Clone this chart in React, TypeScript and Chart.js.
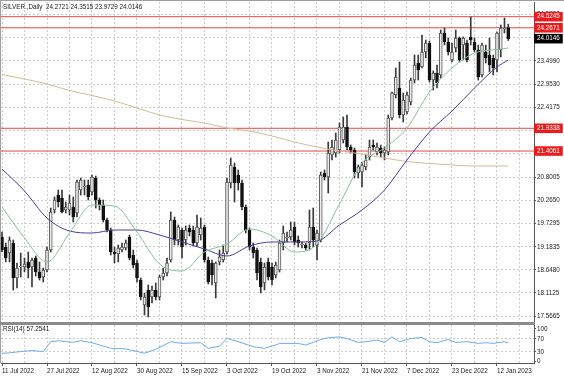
import React, { useEffect, useRef } from "react";
import { Chart, registerables } from "chart.js";

Chart.register(...registerables);

const chartTitle = "SILVER.,Daily  24.2721 24.3515 23.9729 24.0146";
const rsiTitle = "RSI(14) 57.2541";

const candleOpen = [
  19.411, 19.178, 19.039, 19.271, 18.459, 18.714, 18.714, 18.83, 18.714, 18.923,
  18.598, 18.482, 18.644, 19.109, 20.037, 20.385, 20.316, 20.037, 20.037, 20.107,
  19.968, 20.501, 20.571, 20.618, 20.455, 20.78, 20.269, 20.153, 19.805, 19.573,
  19.062, 19.016, 19.109, 19.155, 19.411, 18.993, 18.807, 18.412, 17.832, 18.18,
  18.018, 18.18, 18.018, 18.482, 18.575, 18.877, 19.805, 19.341, 19.573, 19.341,
  19.619, 19.573, 19.271, 19.457, 19.643, 18.877, 18.807, 18.343, 18.83, 18.877,
  19.062, 20.664, 21.035, 20.85, 20.664, 20.107, 19.573, 19.178, 19.109, 18.83,
  18.343, 18.83, 18.714, 18.528, 18.644, 19.271, 19.387, 19.411, 19.643, 19.341,
  19.225, 19.225, 19.271, 19.643, 19.225, 19.341, 20.896, 20.803, 21.314, 21.36,
  21.43, 21.662, 21.964, 21.5, 21.43, 20.896, 20.919, 21.035, 21.268, 21.546,
  21.384, 21.476, 21.36, 21.384, 22.173, 22.707, 22.869, 22.243, 22.312, 22.544,
  23.055, 23.45, 23.357, 23.705, 23.914, 23.055, 23.218, 23.171, 24.146, 23.937,
  23.519, 23.798, 24.03, 23.867, 23.914, 24.053, 23.937, 23.751, 23.171, 23.705,
  23.635, 23.566, 23.519, 23.751, 24.239, 24.2721,
];
const candleHigh = [
  19.527, 19.271, 19.411, 19.341, 18.807, 19.039, 18.923, 19.062, 18.923, 18.969,
  18.83, 18.691, 19.178, 20.084, 20.339, 20.501, 20.501, 20.223, 20.385, 20.339,
  20.734, 20.78, 20.734, 20.734, 20.85, 20.826, 20.316, 20.269, 19.852, 19.619,
  19.178, 19.225, 19.271, 19.341, 19.457, 19.109, 18.877, 18.459, 18.111, 18.296,
  18.273, 18.343, 18.528, 18.691, 18.923, 19.991, 19.875, 19.689, 19.619, 19.666,
  19.689, 19.666, 19.921, 19.852, 19.689, 18.946, 18.877, 18.83, 19.109, 19.225,
  20.78, 21.244, 21.128, 20.966, 20.734, 20.153, 19.619, 19.271, 19.155, 18.923,
  18.807, 18.923, 18.807, 18.83, 19.341, 19.666, 19.527, 19.759, 19.759, 19.434,
  19.295, 19.271, 20.037, 20.084, 19.573, 20.919, 20.966, 21.616, 21.662, 21.825,
  22.057, 22.196, 22.243, 21.546, 21.476, 21.082, 21.151, 21.314, 21.662, 21.662,
  21.593, 21.546, 21.5, 22.243, 22.776, 23.334, 23.473, 22.753, 22.776, 23.101,
  23.635, 23.635, 24.1, 23.983, 23.96, 23.264, 23.403, 24.216, 24.262, 24.03,
  23.914, 24.216, 24.053, 24.053, 23.983, 24.517, 24.03, 23.867, 23.914, 23.867,
  24.03, 23.635, 24.169, 24.332, 24.494, 24.3515,
];
const candleLow = [
  19.062, 18.83, 18.83, 18.18, 18.227, 18.482, 18.598, 18.459, 18.25, 18.505,
  18.412, 18.366, 18.598, 19.062, 19.968, 20.107, 19.968, 19.968, 19.921, 19.759,
  19.875, 20.385, 20.385, 20.269, 20.385, 20.084, 20.037, 19.759, 19.527, 18.993,
  18.807, 18.83, 19.062, 19.109, 18.877, 18.691, 18.366, 17.948, 17.6, 17.554,
  17.879, 17.948, 17.948, 18.412, 18.505, 18.83, 19.225, 19.225, 18.923, 19.225,
  19.434, 19.202, 19.202, 19.341, 18.83, 18.32, 18.296, 17.995, 18.761, 18.83,
  19.016, 20.548, 20.223, 20.501, 20.037, 19.503, 19.109, 18.923, 18.412, 18.111,
  18.18, 18.412, 18.296, 18.459, 18.598, 19.109, 19.295, 19.341, 19.225, 19.178,
  19.155, 19.109, 19.109, 19.178, 18.877, 19.295, 20.734, 20.432, 21.198, 21.268,
  21.36, 21.593, 21.43, 21.36, 20.78, 20.78, 20.571, 20.966, 21.198, 21.43,
  21.314, 21.268, 21.198, 21.314, 22.126, 22.637, 22.173, 22.08, 22.266, 22.475,
  22.985, 23.055, 23.334, 23.566, 23.009, 22.823, 22.869, 23.101, 23.867, 23.635,
  23.473, 23.705, 23.473, 23.519, 23.473, 23.867, 23.705, 23.055, 23.125, 23.45,
  23.241, 23.171, 23.241, 23.589, 24.146, 23.9729,
];
const candleClose = [
  19.109, 18.923, 19.341, 18.459, 18.691, 18.737, 18.784, 18.691, 18.877, 18.598,
  18.459, 18.644, 19.109, 19.991, 20.269, 20.223, 19.991, 20.107, 20.2, 19.875,
  20.687, 20.734, 20.594, 20.339, 20.803, 20.269, 20.153, 19.805, 19.573, 19.062,
  19.016, 19.155, 19.178, 19.271, 18.923, 18.761, 18.459, 18.018, 18.018, 17.786,
  18.18, 18.018, 18.482, 18.575, 18.807, 19.805, 19.341, 19.643, 19.178, 19.573,
  19.527, 19.271, 19.643, 19.619, 18.877, 18.366, 18.528, 18.807, 18.946, 19.039,
  20.687, 21.082, 20.664, 20.664, 20.107, 19.573, 19.178, 19.039, 18.575, 18.25,
  18.714, 18.482, 18.412, 18.761, 19.271, 19.503, 19.411, 19.573, 19.295, 19.271,
  19.248, 19.155, 19.643, 19.341, 19.503, 20.85, 20.803, 21.36, 21.5, 21.662,
  21.964, 21.964, 21.5, 21.43, 20.919, 21.035, 21.082, 21.198, 21.5, 21.5,
  21.5, 21.36, 21.43, 22.173, 22.753, 23.125, 22.243, 22.591, 22.707, 23.055,
  23.403, 23.287, 23.705, 23.914, 23.055, 23.218, 22.985, 24.146, 23.937, 23.705,
  23.705, 24.03, 23.519, 24.03, 23.519, 23.983, 23.751, 23.125, 23.867, 23.566,
  23.403, 23.334, 24.146, 24.262, 24.262, 24.0146,
];

// moving averages read at every 6th bar
const maIndex = [0, 6, 12, 18, 24, 30, 36, 42, 48, 54, 60, 66, 72, 78, 84, 90, 96, 102, 108, 114, 120, 126, 132, 135];
const maSlow = [
  23.183, 23.078, 22.962, 22.811, 22.695, 22.568, 22.405, 22.243, 22.138, 22.057, 21.941, 21.871,
  21.755, 21.616, 21.5, 21.407, 21.337, 21.244, 21.163, 21.117, 21.082, 21.059, 21.059, 21.059,
];
const maMid = [
  20.989, 20.478, 19.852, 19.55, 19.503, 19.573, 19.573, 19.457, 19.295, 19.132, 18.969, 19.202,
  19.295, 19.295, 19.318, 19.689, 20.037, 20.501, 21.198, 21.848, 22.335, 22.869, 23.357, 23.519,
];
const maFast = [
  20.107, 19.387, 18.83, 19.503, 20.153, 20.13, 19.527, 18.784, 18.621, 19.062, 19.248, 19.596,
  19.434, 19.062, 19.248, 20.177, 21.128, 21.476, 21.941, 22.776, 23.334, 23.682, 23.763, 23.798,
];

const rsiIndex = [
  0, 2, 5, 8, 11, 13, 15, 19, 21, 24, 29, 33, 38, 41, 45, 48, 53, 55, 58, 60, 63, 67, 70, 73, 74,
  79, 81, 83, 85, 87, 90, 92, 95, 97, 100, 102, 104, 106, 109, 112, 114, 116, 119, 121, 124, 127, 129, 131, 134, 135,
];
const rsiValues = [
  26, 27, 31, 34, 31, 61, 64, 59, 64, 58, 41, 39, 26, 38, 61, 56, 58, 41, 47, 71, 61, 46, 41, 51, 56,
  56, 51, 59, 68, 73, 76, 71, 59, 61, 66, 59, 76, 61, 71, 74, 61, 58, 68, 59, 61, 56, 58, 56, 61, 57.25,
];

const dateTickIndex = [0, 12, 24, 36, 48, 60, 72, 84, 96, 108, 120, 132];
const dateTickLabels = [
  "11 Jul 2022", "27 Jul 2022", "12 Aug 2022", "30 Aug 2022", "15 Sep 2022", "3 Oct 2022",
  "19 Oct 2022", "3 Nov 2022", "21 Nov 2022", "7 Dec 2022", "23 Dec 2022", "12 Jan 2023",
];
const priceGridTicks = [
  17.5665, 18.1125, 18.648, 19.1835, 19.7295, 20.265, 20.8005, 21.3465, 21.882, 22.4175, 22.953, 23.499, 24.0345, 24.57,
];
const levelLines = [24.5245, 24.2671, 21.9338, 21.4061];
const lastPrice = 24.0146;
const rsiTicks = [0, 30, 70, 100];
const rsiLevels = [30, 70];

const FONT_FAMILY = "'Liberation Sans', Arial, sans-serif";
const FONT_SIZE = 6.3;
const FONT = { family: FONT_FAMILY, size: FONT_SIZE };
const GRID = "#cdcdcd";
const X_MIN = -0.2667;
const X_MAX = 141.867;
const GRID_STEP = 6;

const isSpecial = (v: number) => levelLines.includes(v) || v === lastPrice;

const captionPlugin = (text: string, dy: number) => ({
  id: "caption",
  afterDraw(chart: any) {
    const { ctx, chartArea } = chart;
    ctx.save();
    ctx.font = `${FONT_SIZE}px ${FONT_FAMILY}`;
    ctx.fillStyle = "#1a1a1a";
    ctx.textBaseline = "middle";
    ctx.textAlign = "left";
    ctx.fillText(text, chartArea.left + 2, chartArea.top + dy);
    ctx.restore();
  },
});

const gridTicks = (s: any) => {
  const t: any[] = [];
  for (let v = 0; v <= X_MAX; v += GRID_STEP) t.push({ value: v });
  s.ticks = t;
};

function mainConfig(): any {
  const idx = candleOpen.map((_, i) => i);
  const bull = (i: number) => candleClose[i] >= candleOpen[i];
  const maLine = (vals: number[], color: string, order: number) => ({
    type: "line",
    data: maIndex.map((x, k) => ({ x, y: vals[k] })),
    borderColor: color,
    borderWidth: 1,
    pointRadius: 0,
    cubicInterpolationMode: "monotone",
    order,
  });
  return {
    type: "bar",
    data: {
      datasets: [
        ...levelLines.map((v) => ({
          type: "line",
          data: [
            { x: X_MIN, y: v },
            { x: X_MAX, y: v },
          ],
          borderColor: "rgb(226,72,72)",
          borderWidth: 1,
          pointRadius: 0,
          order: 5,
        })),
        {
          type: "bar",
          data: idx.map((i) => ({ x: i, y: [candleLow[i], candleHigh[i]] })),
          backgroundColor: "#3a3a3a",
          barThickness: 1,
          grouped: false,
          order: 4,
        },
        {
          type: "bar",
          data: idx.map((i) => ({ x: i, y: [candleOpen[i], candleClose[i]] })),
          backgroundColor: idx.map((i) => (bull(i) ? "#ececec" : "#111111")),
          borderColor: idx.map((i) => (bull(i) ? "#555555" : "#111111")),
          borderWidth: 1,
          borderSkipped: false,
          barThickness: 3,
          minBarLength: 1,
          grouped: false,
          order: 3,
        },
        maLine(maSlow, "rgb(214,186,150)", 2),
        maLine(maMid, "rgb(72,62,150)", 1),
        maLine(maFast, "rgb(140,192,152)", 0),
      ],
    },
    options: {
      responsive: false,
      animation: false,
      devicePixelRatio: 1,
      events: [],
      layout: { padding: { top: 1, left: 0, right: 0, bottom: 0 } },
      plugins: { legend: { display: false }, tooltip: { enabled: false } },
      scales: {
        x: {
          type: "linear",
          min: X_MIN,
          max: X_MAX,
          offset: false,
          afterBuildTicks: gridTicks,
          afterFit: (s: any) => {
            s.height = 0;
            s.paddingLeft = 0;
            s.paddingRight = 0;
          },
          ticks: { display: false },
          grid: { color: GRID, drawTicks: false, offset: false },
          border: { display: false, dash: [2, 2] },
        },
        y: {
          type: "linear",
          position: "right",
          min: 17.4375,
          max: 24.8656,
          bounds: "data",
          beginAtZero: false,
          afterBuildTicks: (s: any) => {
            s.ticks = [...priceGridTicks, ...levelLines, lastPrice].map((v) => ({ value: v }));
          },
          afterFit: (s: any) => {
            s.width = 30;
            s.paddingTop = 0;
            s.paddingBottom = 0;
          },
          ticks: {
            autoSkip: false,
            font: FONT,
            padding: 1,
            color: (c: any) => (c.tick && isSpecial(c.tick.value) ? "#ffffff" : "#222222"),
            callback: (v: any) => Number(v).toFixed(4),
            showLabelBackdrop: (c: any) => !!(c.tick && isSpecial(c.tick.value)),
            backdropColor: (c: any) => (c.tick && c.tick.value === lastPrice ? "#000000" : "rgb(232,28,28)"),
            backdropPadding: { left: 3, right: 3, top: 1, bottom: 1 },
          },
          grid: {
            color: (c: any) => (c.tick && isSpecial(c.tick.value) ? "rgba(0,0,0,0)" : GRID),
            tickColor: (c: any) => (c.tick && isSpecial(c.tick.value) ? "rgba(0,0,0,0)" : "#555555"),
            tickLength: 2,
          },
          border: { display: true, color: "#555555", dash: [2, 2] },
        },
      },
    },
    plugins: [captionPlugin(chartTitle, 5)],
  };
}

function rsiConfig(): any {
  return {
    type: "line",
    data: {
      datasets: [
        {
          data: rsiIndex.map((x, k) => ({ x, y: rsiValues[k] })),
          borderColor: "rgb(110,172,228)",
          borderWidth: 1,
          pointRadius: 0,
          tension: 0,
        },
      ],
    },
    options: {
      responsive: false,
      animation: false,
      devicePixelRatio: 1,
      events: [],
      layout: { padding: 0 },
      plugins: { legend: { display: false }, tooltip: { enabled: false } },
      scales: {
        x: {
          type: "linear",
          min: X_MIN,
          max: X_MAX,
          offset: false,
          afterBuildTicks: gridTicks,
          afterFit: (s: any) => {
            s.height = 13;
            s.paddingLeft = 0;
            s.paddingRight = 0;
          },
          ticks: {
            autoSkip: false,
            maxRotation: 0,
            minRotation: 0,
            align: "start",
            font: FONT,
            color: "#222222",
            padding: 1,
            callback: (v: any) => {
              const k = dateTickIndex.indexOf(Number(v));
              return k >= 0 ? dateTickLabels[k] : "";
            },
          },
          grid: {
            color: GRID,
            offset: false,
            tickLength: 3,
            tickColor: (c: any) => (c.tick && dateTickIndex.includes(c.tick.value) ? "#555555" : "rgba(0,0,0,0)"),
          },
          border: { display: true, color: "#555555", dash: [2, 2] },
        },
        y: {
          type: "linear",
          position: "right",
          min: -4,
          max: 112.2,
          bounds: "data",
          afterBuildTicks: (s: any) => {
            s.ticks = rsiTicks.map((v) => ({ value: v }));
          },
          afterFit: (s: any) => {
            s.width = 30;
            s.paddingTop = 0;
            s.paddingBottom = 0;
          },
          ticks: { autoSkip: false, font: FONT, color: "#222222", padding: 1, callback: (v: any) => String(v) },
          grid: {
            color: (c: any) => (c.tick && rsiLevels.includes(c.tick.value) ? GRID : "rgba(0,0,0,0)"),
            tickColor: "#555555",
            tickLength: 2,
          },
          border: { display: true, color: "#555555", dash: [2, 2] },
        },
      },
    },
    plugins: [captionPlugin(rsiTitle, 4.5)],
  };
}

export default function App() {
  const mainRef = useRef<HTMLCanvasElement>(null);
  const rsiRef = useRef<HTMLCanvasElement>(null);
  useEffect(() => {
    const main = new Chart(mainRef.current as HTMLCanvasElement, mainConfig());
    const rsi = new Chart(rsiRef.current as HTMLCanvasElement, rsiConfig());
    return () => {
      main.destroy();
      rsi.destroy();
    };
  }, []);
  return (
    <div style={{ position: "absolute", left: 0, top: 0, width: 564, height: 376, background: "#ffffff", overflow: "hidden" }}>
      <div style={{ position: "absolute", left: 0, top: 0, width: 564, height: 1, background: "#a0a0a0" }} />
      <div style={{ position: "absolute", left: 0, top: 0, width: 1, height: 363, background: "#a0a0a0" }} />
      <canvas
        ref={mainRef}
        width={563}
        height={321}
        style={{ position: "absolute", left: 1, top: 1, width: 563, height: 321 }}
      />
      <div style={{ position: "absolute", left: 0, top: 322, width: 535, height: 3, background: "#8c8c8c" }} />
      <canvas
        ref={rsiRef}
        width={563}
        height={51}
        style={{ position: "absolute", left: 1, top: 325, width: 563, height: 51 }}
      />
    </div>
  );
}
